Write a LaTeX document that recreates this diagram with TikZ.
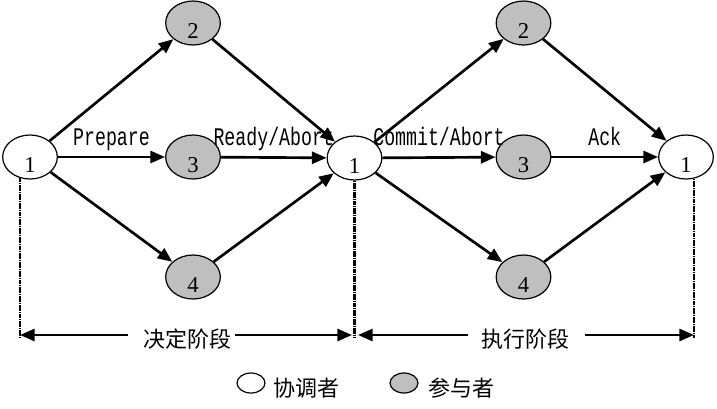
\documentclass[tikz,border=0pt]{standalone}
\usepackage{fontspec}
\setmainfont{Liberation Serif}
\newfontfamily\labfont[FakeStretch=0.72]{Liberation Mono}
\newfontfamily\cjk{Noto Sans CJK SC}
\usetikzlibrary{arrows.meta,shapes.geometric,calc}
\begin{document}
\begin{tikzpicture}[x=0.75pt,y=-0.75pt,
  coord/.style={ellipse,draw,line width=0.9pt,fill=white,minimum width=41pt,minimum height=33pt,inner sep=0pt},
  part/.style={coord,fill=gray!50},
  digit/.style={label={[font=\fontsize{17pt}{17pt}\selectfont,yshift=-6pt]center:#1}},
  flow/.style={line width=2pt,-{Triangle[length=11pt,width=9pt]}},
  elab/.style={midway,anchor=base,yshift=9pt,inner sep=0pt,font=\labfont\fontsize{19pt}{19pt}\selectfont},
  dots/.style={line width=1.7pt,dash pattern=on 1.3pt off 0.4pt},
  phase/.style={line width=2pt,-{Triangle[length=11pt,width=9pt]}},
  ptext/.style={inner sep=0pt,font=\cjk\fontsize{16.5pt}{16.5pt}\selectfont},
  legc/.style={ellipse,draw,line width=0.9pt,minimum width=21pt,minimum height=15pt,inner sep=0pt}
]
\useasboundingbox (0,0) rectangle (717,408);
% coordinators
\node[coord,digit=1] (c1) at (30,157) {};
\node[coord,digit=1] (c2) at (354.5,158) {};
\node[coord,digit=1] (c3) at (686,157) {};
% participants, phase 1
\node[part,digit=2] (a2) at (193,23) {};
\node[part,digit=3] (a3) at (193,157) {};
\node[part,digit=4] (a4) at (193,277) {};
% participants, phase 2
\node[part,digit=2] (b2) at (523.5,23) {};
\node[part,digit=3] (b3) at (523.5,157) {};
\node[part,digit=4] (b4) at (523.5,277) {};
% arrows phase 1
\draw[flow] (c1) -- (a2);
\draw[flow] (c1) -- node[elab]{Prepare} (a3);
\draw[flow] (c1) -- (a4);
\draw[flow] (a2) -- (c2);
\draw[flow] (a3) -- node[elab]{Ready/Abort} (c2);
\draw[flow] (a4) -- (c2);
% arrows phase 2
\draw[flow] (c2) -- (b2);
\draw[flow] (c2) -- node[elab]{Commit/Abort} (b3);
\draw[flow] (c2) -- (b4);
\draw[flow] (b2) -- (c3);
\draw[flow] (b3) -- node[elab]{Ack} (c3);
\draw[flow] (b4) -- (c3);
% dotted drop lines
\coordinate (d1) at (20,338);
\coordinate (d2) at (354.5,338);
\coordinate (d3) at (694,338);
\draw[dots] (c1.244) -- (c1.244 |- d1);
\draw[dots] (c2.south) -- (d2);
\draw[dots] (c3.291) -- (c3.291 |- d3);
% phase arrows
\coordinate (p1l) at (20,335);
\coordinate (p1a) at (128,335);
\coordinate (p1b) at (235,335);
\coordinate (p1r) at (352,335);
\coordinate (p2l) at (358,335);
\coordinate (p2a) at (468,335);
\coordinate (p2b) at (585,335);
\coordinate (p2r) at (694,335);
\draw[phase] (p1a) -- (p1l);
\draw[phase] (p1b) -- (p1r);
\draw[phase] (p2a) -- (p2l);
\draw[phase] (p2b) -- (p2r);
\node[ptext] (t1) at (187.5,339) {决定阶段};
\node[ptext] (t2) at (525,339) {执行阶段};
% legend
\node[legc,fill=white] (lc) at (251,383) {};
\node[ptext,anchor=west] (lct) at (273,388) {协调者};
\node[legc,fill=gray!50] (lp) at (404,383) {};
\node[ptext,anchor=west] (lpt) at (428,388) {参与者};
\end{tikzpicture}
\end{document}
